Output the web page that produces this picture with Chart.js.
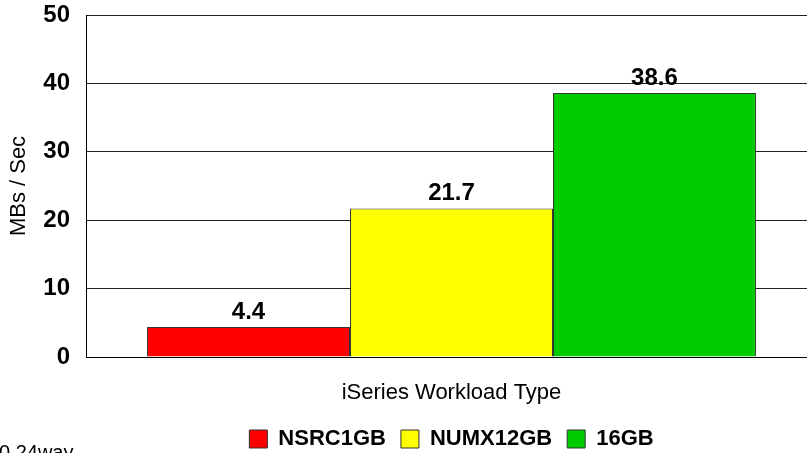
<!DOCTYPE html>
<html>
<head>
<meta charset="utf-8">
<script src="https://cdn.jsdelivr.net/npm/chart.js@4"></script>
<style>
  html, body { margin: 0; padding: 0; background: #fff; overflow: hidden; }
  #wrap { position: relative; width: 817px; height: 475px; }
</style>
</head>
<body>
<div id="wrap"><canvas id="chart" width="817" height="475"></canvas></div>
<script>
// Chart values
const categories = [''];
const seriesNames = ['NSRC1GB', 'NUMX12GB', '16GB'];
const seriesValues = [[4.4], [21.7], [38.6]];
const seriesColors = ['#FF0000', '#FFFF00', '#00CC00'];
const yTicks = [0, 10, 20, 30, 40, 50];

const FONT = 'Arial, "Liberation Sans", sans-serif';

// draws the numbers above each bar
const valueLabels = {
  id: 'valueLabels',
  afterDatasetsDraw(chart) {
    const ctx = chart.ctx;
    ctx.save();
    ctx.font = 'bold 24px ' + FONT;
    ctx.fillStyle = '#000';
    ctx.textAlign = 'center';
    ctx.textBaseline = 'bottom';
    chart.data.datasets.forEach((ds, i) => {
      chart.getDatasetMeta(i).data.forEach((bar, j) => {
        ctx.fillText(ds.data[j].toFixed(1), bar.x, bar.y - 3);
      });
    });
    ctx.restore();
  }
};

// clipped footnote in the bottom-left corner
const footNote = {
  id: 'footNote',
  afterDraw(chart) {
    const ctx = chart.ctx;
    ctx.save();
    ctx.font = '20px ' + FONT;
    ctx.fillStyle = '#000';
    ctx.textAlign = 'left';
    ctx.textBaseline = 'alphabetic';
    ctx.fillText('0 24way', -1, 459);
    ctx.restore();
  }
};

new Chart(document.getElementById('chart'), {
  type: 'bar',
  data: {
    labels: categories,
    datasets: seriesNames.map((name, i) => ({
      label: name,
      data: seriesValues[i],
      backgroundColor: seriesColors[i],
      borderColor: '#333',
      borderWidth: 1,
      categoryPercentage: 0.833,
      barPercentage: 1
    }))
  },
  options: {
    responsive: false,
    animation: false,
    layout: { padding: { top: 15, right: 0, bottom: 15, left: 6 } },
    plugins: {
      legend: {
        position: 'bottom',
        fullSize: false,
        labels: {
          color: '#000',
          boxWidth: 18,
          boxHeight: 18,
          padding: 15,
          font: { family: FONT, size: 22, weight: 'bold' }
        }
      },
      tooltip: { enabled: false }
    },
    scales: {
      x: {
        ticks: { display: false },
        grid: { display: false },
        border: { color: '#000', width: 1 },
        title: {
          display: true,
          text: 'iSeries Workload Type',
          color: '#000',
          font: { family: FONT, size: 22, lineHeight: 1.8 },
          padding: 0
        },
        afterFit(scale) {
          scale.height = 56;
          scale.paddingLeft = 0;
          scale.paddingRight = 0;
        }
      },
      y: {
        min: 0,
        max: 50,
        afterBuildTicks(scale) { scale.ticks = yTicks.map(v => ({ value: v })); },
        ticks: {
          color: '#000',
          padding: 16,
          font: { family: FONT, size: 24, weight: 'bold' }
        },
        grid: { color: '#222', lineWidth: 1, drawTicks: false },
        border: { color: '#000', width: 1 },
        title: {
          display: true,
          text: 'MBs / Sec',
          color: '#000',
          font: { family: FONT, size: 22 },
          padding: 0
        },
        afterFit(scale) {
          scale.width = 80;
          scale.paddingTop = 0;
          scale.paddingBottom = 0;
        }
      }
    }
  },
  plugins: [valueLabels, footNote]
});
</script>
</body>
</html>
